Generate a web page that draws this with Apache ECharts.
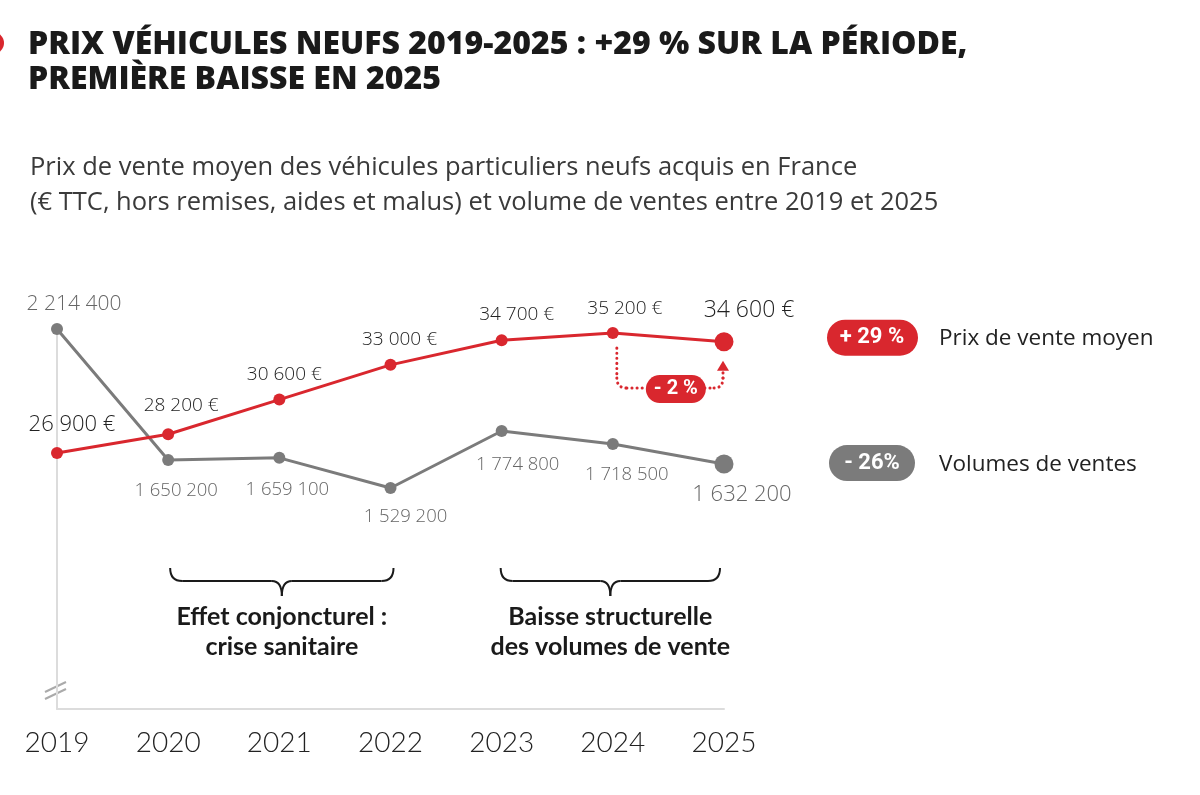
<!DOCTYPE html>
<html>
<head>
<meta charset="utf-8">
<script src="https://cdn.jsdelivr.net/npm/echarts@6/dist/echarts.min.js"></script>
<style>
  html, body { margin: 0; padding: 0; background: #fff; }
  #chart { width: 1200px; height: 795px; }
</style>
</head>
<body>
<div id="chart"></div>
<script>
// données
const years = ['2019', '2020', '2021', '2022', '2023', '2024', '2025'];
const prixMoyen = [26900, 28200, 30600, 33000, 34700, 35200, 34600];
const volumesVentes = [2214400, 1650200, 1659100, 1529200, 1774800, 1718500, 1632200];

const titleLines = ['PRIX VÉHICULES NEUFS 2019-2025 : +29 % SUR LA PÉRIODE,', 'PREMIÈRE BAISSE EN 2025'];
const subtitleLines = [
  'Prix de vente moyen des véhicules particuliers neufs acquis en France',
  '(€ TTC, hors remises, aides et malus) et volume de ventes entre 2019 et 2025'
];
const seriesNames = ['Prix de vente moyen', 'Volumes de ventes'];
const badges = ['+ 29 %', '- 26%'];
const badgeBaisse = '- 2 %';
const periodLabels = [
  ['Effet conjoncturel :', 'crise sanitaire'],
  ['Baisse structurelle', 'des volumes de vente']
];
// périodes couvertes par les accolades (index des années)
const periods = [[1, 3], [4, 6]];

const RED = '#d9272e';
const GREY = '#7b7b7b';
const FONT = '"Open Sans", "Noto Sans", sans-serif';
const FONT_AXIS = 'Lato, sans-serif';

function fmt(v) {
  return String(v).replace(/\B(?=(\d{3})+(?!\d))/g, ' ');
}

const chart = echarts.init(document.getElementById('chart'));

// décalages et tailles des étiquettes
const prixOffsets = [[15, -28], [13, -29], [5, -25], [9, -25], [15, -26], [12, -24], [25, -31]];
const prixSizes = [22, 19, 19, 19, 19, 19, 23];
const volOffsets = [[17, -25], [8, 31], [8, 32], [15, 29], [16, 34], [14, 31], [18, 31]];
const volSizes = [21, 18.5, 18.5, 18.5, 18.5, 18.5, 22];
const last = years.length - 1;

const option = {
  animation: false,
  grid: { left: 57, right: 476, top: 329, bottom: 86 },
  xAxis: {
    type: 'category',
    boundaryGap: false,
    data: years,
    axisLine: { lineStyle: { color: '#dcdcdc', width: 2 } },
    axisTick: { show: false },
    axisLabel: { fontSize: 28, color: '#222', margin: 20, fontFamily: FONT_AXIS, fontWeight: 300 }
  },
  yAxis: [
    {
      type: 'value', min: 9200, max: 35480,
      axisLine: { show: true, lineStyle: { color: '#dcdcdc', width: 2 } },
      axisTick: { show: false }, axisLabel: { show: false }, splitLine: { show: false }
    },
    {
      type: 'value', min: 576600, max: 2214400, show: false, splitLine: { show: false }
    }
  ],
  series: [
    {
      name: seriesNames[1],
      type: 'line',
      yAxisIndex: 1,
      clip: false,
      z: 2,
      color: GREY,
      symbol: 'circle',
      lineStyle: { width: 3, color: GREY },
      data: volumesVentes.map((v, i) => ({
        value: v,
        symbolSize: i === last ? 19 : 12,
        label: {
          show: true, position: 'inside', offset: volOffsets[i],
          formatter: p => fmt(p.value),
          color: '#666', fontFamily: FONT, fontWeight: 300, fontSize: volSizes[i]
        }
      }))
    },
    {
      name: seriesNames[0],
      type: 'line',
      yAxisIndex: 0,
      clip: false,
      z: 3,
      color: RED,
      symbol: 'circle',
      lineStyle: { width: 3, color: RED },
      data: prixMoyen.map((v, i) => ({
        value: v,
        symbolSize: i === last ? 19 : 12,
        label: {
          show: true, position: 'inside', offset: prixOffsets[i],
          formatter: p => fmt(p.value) + ' €',
          color: '#222', fontFamily: FONT, fontWeight: 300, fontSize: prixSizes[i]
        }
      }))
    }
  ]
};
chart.setOption(option);

// éléments graphiques (titres, légende, annotations)
const px = (i, v, axis) => chart.convertToPixel({ xAxisIndex: 0, yAxisIndex: axis }, [years[i], v]);
const p24 = px(5, prixMoyen[5], 0);
const p25 = px(6, prixMoyen[6], 0);
const v25 = px(6, volumesVentes[6], 1);

const dotted = { stroke: RED, lineWidth: 3, lineDash: [0.1, 5], lineCap: 'round', fill: null };

const graphics = [
  { type: 'circle', shape: { cx: -7, cy: 43, r: 11 }, style: { fill: RED } },
  { type: 'text', x: 28, y: 45, style: { text: titleLines[0], font: '800 32px "Open Sans"', fill: '#1a1a1a', verticalAlign: 'middle' } },
  { type: 'text', x: 28, y: 80, style: { text: titleLines[1], font: '800 32px "Open Sans"', fill: '#1a1a1a', verticalAlign: 'middle' } },
  { type: 'text', x: 30, y: 168, style: { text: subtitleLines[0], font: '25.5px ' + FONT, fill: '#3a3a3a', verticalAlign: 'middle' } },
  { type: 'text', x: 30, y: 203, style: { text: subtitleLines[1], font: '25.5px ' + FONT, fill: '#3a3a3a', verticalAlign: 'middle' } },

  // légende
  { type: 'rect', shape: { x: 827, y: p25[1] - 22, width: 91, height: 36, r: 18 }, style: { fill: RED } },
  { type: 'text', x: 872, y: p25[1] - 4, style: { text: badges[0], font: 'bold 22px Roboto', fill: '#fff', align: 'center', verticalAlign: 'middle' } },
  { type: 'text', x: 939, y: p25[1] - 3, style: { text: seriesNames[0], font: '22.5px ' + FONT, fill: '#222', verticalAlign: 'middle' } },
  { type: 'rect', shape: { x: 829, y: v25[1] - 19, width: 86, height: 36, r: 18 }, style: { fill: GREY } },
  { type: 'text', x: 872, y: v25[1] - 1, style: { text: badges[1], font: 'bold 22px Roboto', fill: '#fff', align: 'center', verticalAlign: 'middle' } },
  { type: 'text', x: 939, y: v25[1] + 1, style: { text: seriesNames[1], font: '22.5px ' + FONT, fill: '#222', verticalAlign: 'middle' } },

  // annotation -2 %
  { type: 'line', shape: { x1: p24[0] + 4, y1: p24[1] + 15, x2: p24[0] + 4, y2: p24[1] + 45 }, style: dotted },
  { type: 'bezierCurve', shape: { x1: p24[0] + 4, y1: p24[1] + 45, cpx1: p24[0] + 4, cpy1: p24[1] + 55, x2: p24[0] + 14, y2: p24[1] + 55 }, style: dotted },
  { type: 'line', shape: { x1: p24[0] + 14, y1: p24[1] + 55, x2: p24[0] + 34, y2: p24[1] + 55 }, style: dotted },
  { type: 'line', shape: { x1: p24[0] + 92, y1: p24[1] + 55, x2: p25[0] - 10, y2: p24[1] + 55 }, style: dotted },
  { type: 'bezierCurve', shape: { x1: p25[0] - 10, y1: p24[1] + 55, cpx1: p25[0] - 1, cpy1: p24[1] + 55, x2: p25[0] - 1, y2: p24[1] + 45 }, style: dotted },
  { type: 'line', shape: { x1: p25[0] - 1, y1: p24[1] + 45, x2: p25[0] - 1, y2: p25[1] + 29 }, style: dotted },
  {
    type: 'polygon',
    shape: { points: [[p25[0] - 1, p25[1] + 19], [p25[0] - 7, p25[1] + 29], [p25[0] + 5, p25[1] + 29]] },
    style: { fill: RED }
  },
  { type: 'rect', shape: { x: p24[0] + 33, y: p24[1] + 42, width: 60, height: 28, r: 14 }, style: { fill: RED } },
  { type: 'text', x: p24[0] + 63, y: p24[1] + 56, style: { text: badgeBaisse, font: 'bold 20px Roboto', fill: '#fff', align: 'center', verticalAlign: 'middle' } },

  // cassure de l'axe
  { type: 'line', shape: { x1: 45, y1: 692, x2: 66, y2: 682 }, style: { stroke: '#aaa', lineWidth: 2 } },
  { type: 'line', shape: { x1: 45, y1: 699, x2: 66, y2: 689 }, style: { stroke: '#aaa', lineWidth: 2 } }
];

// accolades et textes des périodes
periods.forEach((pr, k) => {
  const a = px(pr[0], prixMoyen[pr[0]], 0)[0] + (k ? -1 : 2);
  const b = px(pr[1], prixMoyen[pr[1]], 0)[0] + (k ? -4 : 3);
  const m = (a + b) / 2;
  const y0 = 568, y1 = 581, y2 = 596;
  const st = { stroke: '#1a1a1a', lineWidth: 2, fill: null };
  graphics.push(
    { type: 'bezierCurve', shape: { x1: a, y1: y0, cpx1: a, cpy1: y1, x2: a + 12, y2: y1 }, style: st },
    { type: 'line', shape: { x1: a + 12, y1: y1, x2: m - 10, y2: y1 }, style: st },
    { type: 'bezierCurve', shape: { x1: m - 10, y1: y1, cpx1: m, cpy1: y1, x2: m, y2: y2 }, style: st },
    { type: 'bezierCurve', shape: { x1: m, y1: y2, cpx1: m, cpy1: y1, x2: m + 10, y2: y1 }, style: st },
    { type: 'line', shape: { x1: m + 10, y1: y1, x2: b - 12, y2: y1 }, style: st },
    { type: 'bezierCurve', shape: { x1: b - 12, y1: y1, cpx1: b, cpy1: y1, x2: b, y2: y0 }, style: st }
  );
  periodLabels[k].forEach((t, j) => {
    graphics.push({
      type: 'text', x: m, y: 617 + j * 30,
      style: { text: t, font: 'bold 25px Lato', fill: '#1a1a1a', align: 'center', verticalAlign: 'middle' }
    });
  });
});

chart.setOption({ graphic: graphics });
</script>
</body>
</html>
